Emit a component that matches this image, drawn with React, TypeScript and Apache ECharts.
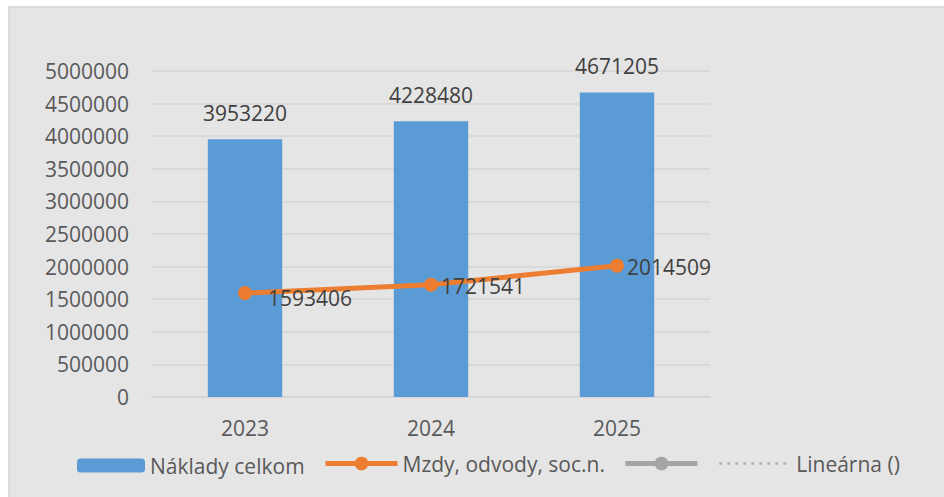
import React, { useEffect, useRef } from "react";
import * as echarts from "echarts";

const categories = ["2023", "2024", "2025"];
const totalCosts = [3953220, 4228480, 4671205];
const wages = [1593406, 1721541, 2014509];
const seriesNames = ["Náklady celkom", "Mzdy, odvody, soc.n.", " ", "Lineárna ()"];
const yTicks = { min: 0, max: 5000000, interval: 500000 };

const FONT = "'Open Sans', 'Liberation Sans', sans-serif";

export default function App() {
  const ref = useRef<HTMLDivElement>(null);
  useEffect(() => {
    if (!ref.current) return;
    const chart = echarts.init(ref.current, null, { renderer: "svg" });
    const wageLabelOffsets = [[13, 5], [0, 1], [0, 1]];
    const legendText = { fontSize: 21, color: "#595959", fontFamily: FONT };
    chart.setOption({
      animation: false,
      backgroundColor: "#ffffff",
      textStyle: { fontFamily: FONT },
      graphic: [
        {
          type: "rect",
          z: -10,
          shape: { x: 9, y: 7, width: 960, height: 520 },
          style: { fill: "#e5e5e5", stroke: "#d4d4d4", lineWidth: 1.5 },
        },
      ],
      grid: { left: 152, right: 234, top: 71, bottom: 100, containLabel: false },
      legend: [
        {
          left: 77,
          top: 455,
          padding: 0,
          itemWidth: 68,
          itemHeight: 14,
          itemGap: 18,
          textStyle: legendText,
          data: [seriesNames[0]],
        },
        {
          left: 323,
          top: 453,
          padding: 0,
          itemWidth: 72,
          itemHeight: 17,
          itemGap: 18,
          textStyle: legendText,
          lineStyle: { width: 5 },
          data: [seriesNames[1], seriesNames[2]],
        },
        {
          left: 718,
          top: 453,
          padding: 0,
          itemWidth: 72,
          itemHeight: 17,
          textStyle: legendText,
          lineStyle: { width: 2.5 },
          itemStyle: { opacity: 0 },
          data: [seriesNames[3]],
        },
      ],
      xAxis: {
        type: "category",
        data: categories,
        axisLine: { lineStyle: { color: "#d4d4d4", width: 1.5 } },
        axisTick: { show: false },
        axisLabel: { fontSize: 21, color: "#595959", margin: 20, fontFamily: FONT },
      },
      yAxis: {
        type: "value",
        min: yTicks.min,
        max: yTicks.max,
        interval: yTicks.interval,
        axisLine: { show: false },
        axisTick: { show: false },
        splitLine: { lineStyle: { color: "#d4d4d4", width: 1.5 } },
        axisLabel: {
          fontSize: 21,
          color: "#595959",
          margin: 23,
          fontFamily: FONT,
          formatter: (v: number) => String(v),
        },
      },
      series: [
        {
          name: seriesNames[0],
          type: "bar",
          data: totalCosts,
          barWidth: "40%",
          itemStyle: { color: "#5b9bd5" },
          label: {
            show: true,
            position: "top",
            distance: 16,
            fontSize: 21,
            color: "#404040",
            fontFamily: FONT,
          },
        },
        {
          name: seriesNames[1],
          type: "line",
          data: wages.map((v, i) => ({
            value: v,
            label: { offset: wageLabelOffsets[i] },
          })),
          symbol: "circle",
          symbolSize: 14,
          itemStyle: { color: "#ed7d31" },
          lineStyle: { color: "#ed7d31", width: 5 },
          label: {
            show: true,
            position: "right",
            distance: 3,
            fontSize: 21,
            color: "#404040",
            fontFamily: FONT,
          },
        },
        {
          name: seriesNames[2],
          type: "line",
          data: [],
          symbol: "circle",
          symbolSize: 14,
          itemStyle: { color: "#a5a5a5" },
          lineStyle: { color: "#a5a5a5", width: 5 },
        },
        {
          name: seriesNames[3],
          type: "line",
          data: [],
          symbol: "none",
          itemStyle: { color: "#b4b4b4" },
          lineStyle: { color: "#b4b4b4", width: 2.5, type: [3, 5] },
        },
      ],
    });
    return () => chart.dispose();
  }, []);
  return (
    <div
      ref={ref}
      style={{ position: "fixed", left: 0, top: 0, width: 944, height: 497 }}
    />
  );
}
